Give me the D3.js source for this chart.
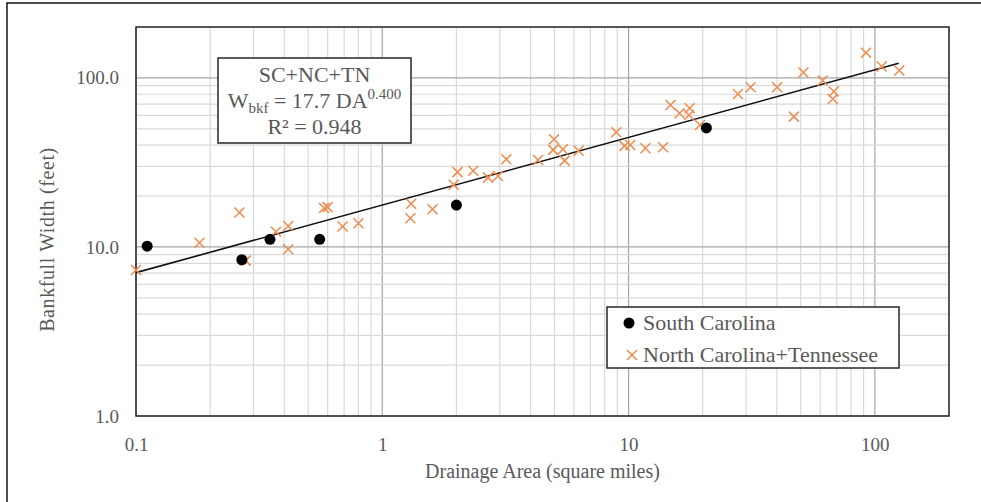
<!DOCTYPE html>
<html>
<head>
<meta charset="utf-8">
<script src="https://cdn.jsdelivr.net/npm/d3@7"></script>
<style>
    body { margin: 0; background: #fff; }
    svg { display: block; font-family: "Liberation Serif", "Times New Roman", serif; }
</style>
</head>
<body>
<svg id="chart" width="981" height="502"></svg>
<script>
// South Carolina sites
const scArea = [0.111, 0.269, 0.35, 0.557, 2.0, 20.7];
const scWidth = [10.1, 8.4, 11.1, 11.1, 17.7, 50.6];

// North Carolina + Tennessee sites
const ncArea = [0.1, 0.181, 0.263, 0.279, 0.37, 0.415, 0.415, 0.58, 0.60, 0.69, 0.80,
    1.31, 1.30, 1.60, 2.02, 1.95, 2.34, 2.69, 2.95, 3.19, 4.29, 4.98, 4.94, 5.41, 5.50,
    6.27, 8.91, 9.63, 10.16, 11.7, 13.8, 14.8, 16.1, 17.7, 17.6, 19.5, 27.8, 31.3, 40.1,
    46.9, 51.3, 61.4, 68.1, 67.5, 92.1, 106.6, 125.7];
const ncWidth = [7.3, 10.6, 16.0, 8.3, 12.3, 13.3, 9.7, 17.0, 17.2, 13.2, 13.8,
    18.0, 14.8, 16.7, 27.7, 23.3, 28.2, 25.7, 26.3, 33.0, 32.7, 43.4, 37.5, 37.8, 32.4,
    37.1, 47.7, 39.6, 40.1, 38.4, 38.9, 69.2, 61.8, 66.2, 60.4, 52.7, 80.4, 88.1, 88.0,
    59.0, 107.5, 96.4, 83.0, 75.1, 141, 116.7, 110.5];

// Power regression  W = 17.7 * DA^0.400
const fitCoef = 17.7;
const fitExp = 0.400;
const fitRange = [0.1, 125];

// Axis ticks
const xTicks = [0.1, 1, 10, 100];
const xTickLabels = ["0.1", "1", "10", "100"];
const yTicks = [1, 10, 100];
const yTickLabels = ["1.0", "10.0", "100.0"];

const svg = d3.select("#chart");
const width = 981;
const height = 502;
const margin = { top: 27, right: 32, bottom: 86, left: 136 };
const textColor = "#595959";
const crossColor = "#f08a4b";

// Scales
const x = d3.scaleLog()
    .domain([0.1, 200])
    .range([margin.left, width - margin.right]);

const y = d3.scaleLog()
    .domain([1, 200])
    .range([height - margin.bottom, margin.top]);

// Outer chart border (cropped at right/bottom)
svg.append("path")
    .attr("d", "M7,502V3H981")
    .attr("fill", "none")
    .attr("stroke", "#111")
    .attr("stroke-width", 1.5);

// Gridlines: every 1..9 within each decade
function logLines(lo, hi) {
    const out = [];
    for (let p = Math.floor(Math.log10(lo)); Math.pow(10, p) <= hi; p++) {
        for (let m = 1; m < 10; m++) {
            const v = m * Math.pow(10, p);
            if (v >= lo - 1e-9 && v <= hi + 1e-9) out.push({ v: v, major: m === 1 });
        }
    }
    return out;
}

const grid = svg.append("g").attr("class", "grid");

grid.selectAll("line.vx")
    .data(logLines(0.1, 200))
    .enter().append("line")
    .attr("class", "vx")
    .attr("x1", d => x(d.v)).attr("x2", d => x(d.v))
    .attr("y1", y(200)).attr("y2", y(1))
    .attr("stroke", d => d.major ? "#a6a6a6" : "#d9d9d9")
    .attr("stroke-width", 1.2);

grid.selectAll("line.hy")
    .data(logLines(1, 200))
    .enter().append("line")
    .attr("class", "hy")
    .attr("x1", x(0.1)).attr("x2", x(200))
    .attr("y1", d => y(d.v)).attr("y2", d => y(d.v))
    .attr("stroke", d => d.major ? "#a6a6a6" : "#d9d9d9")
    .attr("stroke-width", 1.2);

// Plot area frame
svg.append("rect")
    .attr("x", x(0.1))
    .attr("y", y(200))
    .attr("width", x(200) - x(0.1))
    .attr("height", y(1) - y(200))
    .attr("fill", "none")
    .attr("stroke", "#262626")
    .attr("stroke-width", 1.5);

// Axes
const xAxis = svg.append("g")
    .attr("transform", `translate(0,${height - margin.bottom})`)
    .call(d3.axisBottom(x).tickValues(xTicks).tickSize(0).tickPadding(22)
        .tickFormat((d, i) => xTickLabels[i]));

const yAxis = svg.append("g")
    .attr("transform", `translate(${margin.left},0)`)
    .call(d3.axisLeft(y).tickValues(yTicks).tickSize(0).tickPadding(17)
        .tickFormat((d, i) => yTickLabels[i]));

[xAxis, yAxis].forEach(a => {
    a.select(".domain").remove();
    a.selectAll("text")
        .attr("fill", textColor)
        .style("font-size", "19px")
        .style("font-family", "'Liberation Serif', serif");
});

// Axis titles
svg.append("text")
    .attr("x", (x(0.1) + x(200)) / 2)
    .attr("y", 478)
    .attr("text-anchor", "middle")
    .attr("fill", textColor)
    .style("font-size", "20px")
    .text("Drainage Area (square miles)");

svg.append("text")
    .attr("transform", `translate(54,${(y(1) + y(200)) / 2 + 18}) rotate(-90)`)
    .attr("text-anchor", "middle")
    .attr("fill", textColor)
    .style("font-size", "20px")
    .style("letter-spacing", "0.6px")
    .text("Bankfull Width (feet)");

// Trend line
const fitData = fitRange.map(a => ({ a: a, w: fitCoef * Math.pow(a, fitExp) }));
svg.append("path")
    .datum(fitData)
    .attr("fill", "none")
    .attr("stroke", "#111")
    .attr("stroke-width", 1.6)
    .attr("d", d3.line().x(d => x(d.a)).y(d => y(d.w)));

// NC + TN crosses
const crossPath = s => `M${-s},${-s}L${s},${s}M${-s},${s}L${s},${-s}`;
svg.append("g")
    .selectAll("path")
    .data(ncArea.map((a, i) => ({ a: a, w: ncWidth[i] })))
    .enter().append("path")
    .attr("transform", d => `translate(${x(d.a)},${y(d.w)})`)
    .attr("d", crossPath(5))
    .attr("stroke", crossColor)
    .attr("stroke-width", 1.5)
    .attr("fill", "none");

// SC dots
svg.append("g")
    .selectAll("circle")
    .data(scArea.map((a, i) => ({ a: a, w: scWidth[i] })))
    .enter().append("circle")
    .attr("cx", d => x(d.a))
    .attr("cy", d => y(d.w))
    .attr("r", 5.5)
    .attr("fill", "#000");

// Equation box
const eq = svg.append("g");
eq.append("rect")
    .attr("x", 218).attr("y", 58)
    .attr("width", 193).attr("height", 85)
    .attr("fill", "#fff")
    .attr("stroke", "#262626")
    .attr("stroke-width", 1.5);

const eqX = 314.5;
eq.append("text")
    .attr("x", eqX).attr("y", 82)
    .attr("text-anchor", "middle")
    .attr("fill", textColor)
    .style("font-size", "22px")
    .text("SC+NC+TN");

const eqLine = eq.append("text")
    .attr("x", eqX).attr("y", 108)
    .attr("text-anchor", "middle")
    .attr("fill", textColor)
    .style("font-size", "22px");
eqLine.append("tspan").text("W");
eqLine.append("tspan").attr("dy", 5).style("font-size", "15px").text("bkf");
eqLine.append("tspan").attr("dy", -5).text(" = 17.7 DA");
eqLine.append("tspan").attr("dy", -9).style("font-size", "15px").text("0.400");

eq.append("text")
    .attr("x", eqX).attr("y", 134)
    .attr("text-anchor", "middle")
    .attr("fill", textColor)
    .style("font-size", "22px")
    .text("R² = 0.948");

// Legend
const legend = svg.append("g");
legend.append("rect")
    .attr("x", 607).attr("y", 307)
    .attr("width", 292).attr("height", 61)
    .attr("fill", "#fff")
    .attr("stroke", "#262626")
    .attr("stroke-width", 1.5);

legend.append("circle").attr("cx", 629).attr("cy", 323).attr("r", 5.5).attr("fill", "#000");
legend.append("text").attr("x", 643).attr("y", 330)
    .attr("fill", textColor).style("font-size", "22px").text("South Carolina");

legend.append("path")
    .attr("transform", "translate(632,355)")
    .attr("d", crossPath(5))
    .attr("stroke", crossColor)
    .attr("stroke-width", 1.5)
    .attr("fill", "none");
legend.append("text").attr("x", 643).attr("y", 362)
    .attr("fill", textColor).style("font-size", "22px").text("North Carolina+Tennessee");
</script>
</body>
</html>
